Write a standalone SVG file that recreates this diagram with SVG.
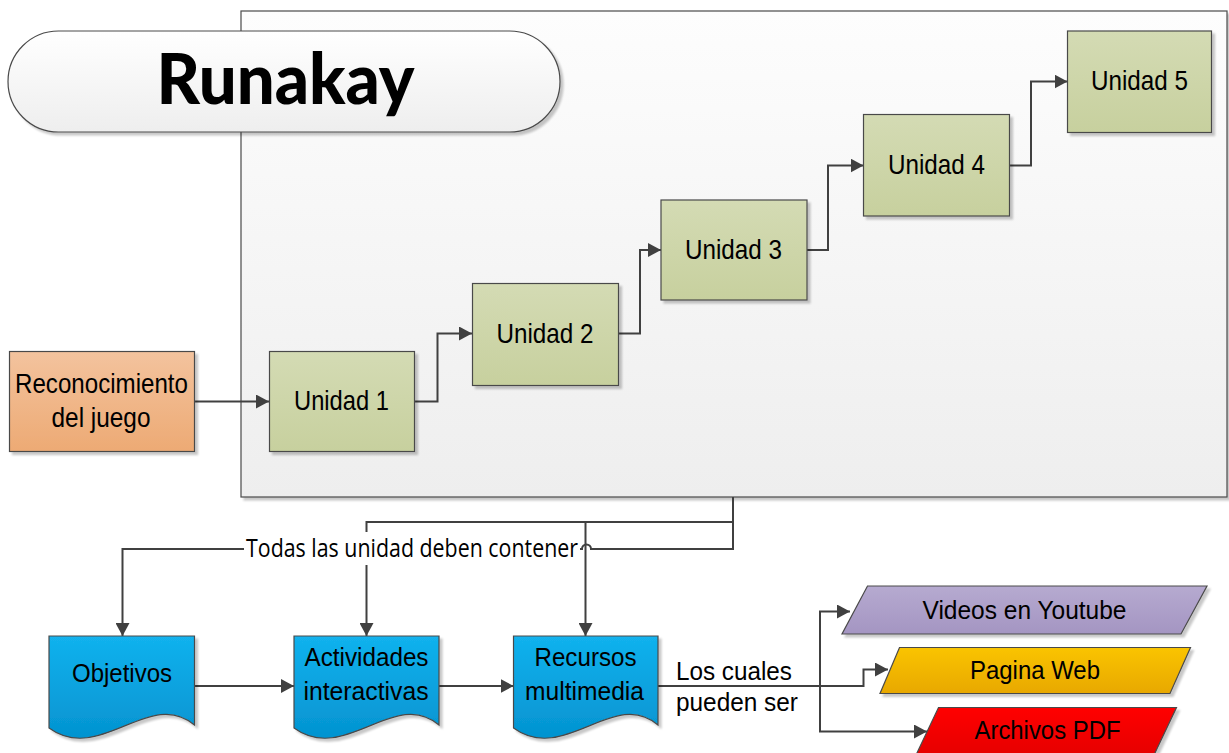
<svg xmlns="http://www.w3.org/2000/svg" width="1229" height="753" viewBox="0 0 1229 753">
  <defs>
    <linearGradient id="gPanel" x1="0" y1="0" x2="0" y2="1">
      <stop offset="0" stop-color="#fdfdfd"/>
      <stop offset="1" stop-color="#eeeeee"/>
    </linearGradient>
    <linearGradient id="gPill" x1="0" y1="0" x2="0" y2="1">
      <stop offset="0" stop-color="#ffffff"/>
      <stop offset="1" stop-color="#eeeeee"/>
    </linearGradient>
    <linearGradient id="gGreen" x1="0" y1="0" x2="0" y2="1">
      <stop offset="0" stop-color="#d4dbb4"/>
      <stop offset="1" stop-color="#c7d09e"/>
    </linearGradient>
    <linearGradient id="gOrange" x1="0" y1="0" x2="0" y2="1">
      <stop offset="0" stop-color="#f3c39e"/>
      <stop offset="1" stop-color="#edaa74"/>
    </linearGradient>
    <linearGradient id="gBlue" x1="0" y1="0" x2="0" y2="1">
      <stop offset="0" stop-color="#12b2ee"/>
      <stop offset="1" stop-color="#0493d0"/>
    </linearGradient>
    <linearGradient id="gPurple" x1="0" y1="0" x2="0" y2="1">
      <stop offset="0" stop-color="#b6aad0"/>
      <stop offset="1" stop-color="#a495c2"/>
    </linearGradient>
    <linearGradient id="gAmber" x1="0" y1="0" x2="0" y2="1">
      <stop offset="0" stop-color="#fac400"/>
      <stop offset="1" stop-color="#e8a800"/>
    </linearGradient>
    <linearGradient id="gRed" x1="0" y1="0" x2="0" y2="1">
      <stop offset="0" stop-color="#ff0000"/>
      <stop offset="1" stop-color="#e60000"/>
    </linearGradient>
    <filter id="shadow" x="-5%" y="-5%" width="115%" height="125%">
      <feGaussianBlur in="SourceAlpha" stdDeviation="1.2"/>
      <feOffset dx="3" dy="3"/>
      <feComponentTransfer><feFuncA type="linear" slope="0.22"/></feComponentTransfer>
      <feMerge><feMergeNode/><feMergeNode in="SourceGraphic"/></feMerge>
    </filter>
    <marker id="arrow" viewBox="0 0 13 14" refX="13" refY="7" markerWidth="13" markerHeight="14" markerUnits="userSpaceOnUse" orient="auto">
      <path d="M0,0 L13,7 L0,14 Z" fill="#404040"/>
    </marker>
  </defs>
  <style>
    .shape { stroke: #4a4a4a; stroke-width: 1.2; filter: url(#shadow); }
    .lbl { font-family: "Liberation Sans", Arial, sans-serif; font-size: 28px; fill: #000; text-anchor: middle; }
    .doc { font-family: "Liberation Sans", Arial, sans-serif; font-size: 25px; fill: #000; text-anchor: middle; }
    .lbl2 { font-family: "Liberation Sans", Arial, sans-serif; font-size: 25px; fill: #000; }
    .edgeA { fill: none; stroke: #404040; stroke-width: 2; marker-end: url(#arrow); }
  </style>

  <rect width="1229" height="753" fill="#ffffff"/>

  <!-- course panel -->
  <g id="panel">
    <rect class="shape" x="241" y="11" width="986" height="486" fill="url(#gPanel)"/>
  </g>

  <!-- title -->
  <g id="title">
    <rect class="shape" x="8" y="31" width="552" height="101" rx="50.5" fill="url(#gPill)"/>
    <text x="285.5" y="104" font-family="Lato, 'DejaVu Sans', sans-serif" font-weight="900" font-size="70" text-anchor="middle" textLength="258" lengthAdjust="spacingAndGlyphs" fill="#000">Runakay</text>
  </g>

  <!-- connectors -->
  <g id="connectors">
    <path class="edgeA" d="M194,401.5 H269"/>
    <path class="edgeA" d="M414,401.5 H437.5 V333.5 H472"/>
    <path class="edgeA" d="M618,333.5 H640 V250 H661"/>
    <path class="edgeA" d="M807,250 H828 V165.5 H863.5"/>
    <path class="edgeA" d="M1009,165.5 H1031 V81.5 H1067.5"/>

    <path class="edgeA" d="M733,497 V549 H591 A4.5,4.5 0 0 0 582,549 H122.5 V636"/>
    <path class="edgeA" d="M733,522 H366.5 V636"/>
    <path class="edgeA" d="M733,522 H585.5 V636"/>
    <rect x="244" y="532" width="336" height="33" fill="#ffffff"/>
    <text x="412" y="557" font-family="'Open Sans', 'Liberation Sans', sans-serif" font-size="25" text-anchor="middle" textLength="332" lengthAdjust="spacingAndGlyphs" fill="#000">Todas las unidad deben contener</text>

    <path class="edgeA" d="M195,686 H294"/>
    <path class="edgeA" d="M439,686 H513.5"/>

    <path class="edgeA" d="M658,686 H863.5 V669.5 H888"/>
    <path class="edgeA" d="M658,686 H820 V611.5 H850"/>
    <path class="edgeA" d="M658,686 H820 V731.5 H927"/>
    <text class="lbl2" x="676" y="679.5" textLength="116" lengthAdjust="spacingAndGlyphs">Los cuales</text>
    <text class="lbl2" x="676" y="711" textLength="122" lengthAdjust="spacingAndGlyphs">pueden ser</text>
  </g>

  <!-- start node -->
  <g id="reconocimiento">
    <rect class="shape" x="9.5" y="351.5" width="185" height="100" fill="url(#gOrange)"/>
    <text class="lbl" x="101.5" y="392.5" textLength="173" lengthAdjust="spacingAndGlyphs">Reconocimiento</text>
    <text class="lbl" x="101" y="426.5" textLength="99" lengthAdjust="spacingAndGlyphs">del juego</text>
  </g>

  <!-- units -->
  <g id="unidad1">
    <rect class="shape" x="269.5" y="351.5" width="145" height="100" fill="url(#gGreen)"/>
    <text class="lbl" x="341.5" y="410" textLength="95" lengthAdjust="spacingAndGlyphs">Unidad 1</text>
  </g>
  <g id="unidad2">
    <rect class="shape" x="472.5" y="283.5" width="146" height="102" fill="url(#gGreen)"/>
    <text class="lbl" x="545" y="342.5" textLength="97" lengthAdjust="spacingAndGlyphs">Unidad 2</text>
  </g>
  <g id="unidad3">
    <rect class="shape" x="661" y="200" width="146" height="100" fill="url(#gGreen)"/>
    <text class="lbl" x="733.5" y="258.5" textLength="97" lengthAdjust="spacingAndGlyphs">Unidad 3</text>
  </g>
  <g id="unidad4">
    <rect class="shape" x="863.5" y="114.5" width="146" height="101.5" fill="url(#gGreen)"/>
    <text class="lbl" x="936.5" y="173.5" textLength="97" lengthAdjust="spacingAndGlyphs">Unidad 4</text>
  </g>
  <g id="unidad5">
    <rect class="shape" x="1067.5" y="31" width="144" height="101.5" fill="url(#gGreen)"/>
    <text class="lbl" x="1139.5" y="89.5" textLength="97" lengthAdjust="spacingAndGlyphs">Unidad 5</text>
  </g>

  <!-- content documents -->
  <g id="objetivos">
    <path class="shape" d="M49,636 H194.5 V725 C150,687 100,765 49,728 Z" fill="url(#gBlue)"/>
    <text class="doc" x="122" y="682" textLength="100" lengthAdjust="spacingAndGlyphs">Objetivos</text>
  </g>
  <g id="actividades">
    <path class="shape" d="M294,636 H439 V725 C395,687 345,765 294,728 Z" fill="url(#gBlue)"/>
    <text class="doc" x="366.5" y="666" textLength="124" lengthAdjust="spacingAndGlyphs">Actividades</text>
    <text class="doc" x="366" y="700" textLength="125" lengthAdjust="spacingAndGlyphs">interactivas</text>
  </g>
  <g id="recursos">
    <path class="shape" d="M513.5,636 H658 V725 C614.5,687 564.5,765 513.5,728 Z" fill="url(#gBlue)"/>
    <text class="doc" x="585.5" y="666" textLength="102" lengthAdjust="spacingAndGlyphs">Recursos</text>
    <text class="doc" x="584.5" y="700" textLength="119" lengthAdjust="spacingAndGlyphs">multimedia</text>
  </g>

  <!-- media types -->
  <g id="videos">
    <path class="shape" d="M867.5,586 H1207 L1181,634 H842 Z" fill="url(#gPurple)"/>
    <text class="doc" x="1024.5" y="618.5" textLength="204" lengthAdjust="spacingAndGlyphs">Videos en Youtube</text>
  </g>
  <g id="paginaweb">
    <path class="shape" d="M899.5,647.5 H1190.5 L1170,693.5 H880 Z" fill="url(#gAmber)"/>
    <text class="doc" x="1035" y="678.5" textLength="130" lengthAdjust="spacingAndGlyphs">Pagina Web</text>
  </g>
  <g id="archivospdf">
    <path class="shape" d="M938.5,707.5 H1176.5 L1154,755 H916 Z" fill="url(#gRed)"/>
    <text class="doc" x="1047.5" y="738.5" textLength="146" lengthAdjust="spacingAndGlyphs">Archivos PDF</text>
  </g>
</svg>
